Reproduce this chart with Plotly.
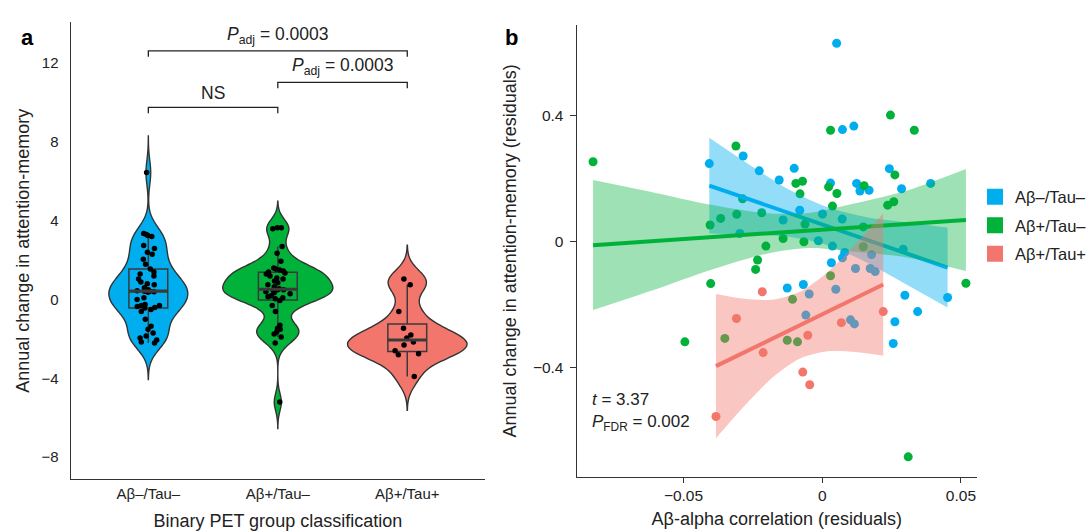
import numpy as np
import plotly.graph_objects as go

# ---------------- data: panel a ----------------
categories = ["Aβ–/Tau–", "Aβ+/Tau–", "Aβ+/Tau+"]
colors = ["#00AEEF", "#00B13A", "#F3766C"]

blue_vals = [-2.2, -2.15, -2.05, -1.95, -1.85, -1.7, -1.5, -1.35, -1.0, -0.6, -0.5, -0.42,
             -0.4, -0.35, -0.3, -0.3, -0.25, 0.0, 0.1, 0.38, 0.4, 0.42, 0.43, 0.45, 0.5,
             0.6, 0.75, 0.8, 0.9, 1.05, 1.2, 1.3, 1.4, 1.55, 1.8, 2.05, 2.3, 2.4, 2.6,
             2.75, 3.2, 3.25, 3.3, 3.35, 6.45]
green_vals = [-5.2, -2.2, -1.9, -1.75, -1.65, -1.5, -1.45, -1.3, -0.6, -0.3, -0.05, 0.05,
              0.1, 0.15, 0.2, 0.3, 0.35, 0.4, 0.45, 0.5, 0.5, 0.55, 0.65, 0.75, 0.85, 0.95,
              1.05, 1.1, 1.2, 1.3, 1.35, 1.4, 1.45, 1.5, 1.55, 1.6, 1.95, 2.35, 2.7, 3.6,
              3.65, 3.65]
red_vals = [-3.9, -2.8, -2.75, -2.6, -2.3, -2.15, -1.95, -1.8, -1.45, -0.6, 0.75, 1.05]
group_vals = [blue_vals, green_vals, red_vals]
violin_widths = [0.61, 0.85, 0.92]

# significance brackets: (left group, right group, height, label)
bracket_pairs = [(0, 2), (1, 2), (0, 1)]
bracket_heights = [12.63, 11.03, 9.76]
bracket_labels = ["<i>P</i><sub>adj</sub> = 0.0003", "<i>P</i><sub>adj</sub> = 0.0003", "NS"]

# ---------------- data: panel b ----------------
blue_x = [-0.0407, -0.0285, -0.0227, -0.0155, -0.0101, 0.0030, 0.0124, 0.0136, 0.0169, 0.0242,
          0.0073, 0.0114, 0.0052, 0.0286, 0.0391, -0.0081, 0.0001, -0.0141, -0.0297, -0.0014,
          0.0037, 0.0072, 0.0033, 0.0081, 0.0073, 0.0120, 0.0173, 0.0191, 0.0178, 0.0292,
          -0.0126, -0.0068, -0.0047, 0.0049, -0.0059, 0.0102, 0.0116, 0.0298, 0.0344, 0.0262,
          0.0256, 0.0452]
blue_y = [0.246, 0.270, 0.223, 0.194, 0.231, 0.184, 0.183, 0.159, 0.161, 0.230,
          0.354, 0.365, 0.628, 0.166, 0.183, 0.098, 0.086, 0.067, 0.024, 0.001,
          -0.016, 0.070, -0.069, -0.036, -0.053, -0.087, -0.087, -0.097, -0.043, -0.026,
          -0.149, -0.138, -0.168, -0.153, -0.235, -0.250, -0.263, -0.172, -0.224, -0.256,
          -0.325, -0.179]
green_x = [-0.0826, -0.0311, 0.0246, 0.0030, 0.0332, -0.0095, -0.0071, -0.0080, 0.0023, 0.0053,
           0.0151, 0.0262, 0.0236, 0.0258, 0.0037, -0.0287, -0.0404, -0.0366, -0.0308, -0.0218,
           -0.0203, -0.0141, -0.0062, 0.0148, -0.0233, -0.0240, -0.0402, -0.0495, 0.0518, 0.0310,
           0.0030, -0.0107, -0.0351, -0.0126, -0.0089, -0.0066, 0.0148]
green_y = [0.252, 0.302, 0.400, 0.352, 0.352, 0.183, 0.190, 0.150, 0.172, 0.151,
           0.176, 0.210, 0.114, 0.125, 0.111, 0.134, 0.051, 0.072, 0.085, 0.090,
           -0.016, 0.008, 0.054, 0.045, -0.060, -0.090, -0.135, -0.320, -0.134, -0.685,
           -0.110, -0.185, -0.309, -0.315, -0.320, -0.002, -0.018]
red_x = [-0.0216, -0.0309, -0.0213, -0.0052, 0.0069, 0.0220, -0.0070, -0.0045, -0.0383]
red_y = [-0.161, -0.246, -0.354, -0.299, -0.259, -0.224, -0.416, -0.456, -0.557]

# fitted lines with confidence bands
blue_fit_x = [-0.0407, -0.026, -0.012, 0.002, 0.016, 0.030, 0.0452]
blue_fit = [0.176, 0.131, 0.089, 0.047, 0.004, -0.038, -0.084]
blue_hi = [0.328, 0.241, 0.164, 0.107, 0.076, 0.060, 0.043]
blue_lo = [0.024, 0.021, 0.014, -0.013, -0.068, -0.136, -0.211]

green_fit_x = [-0.0826, -0.06, -0.04, -0.02, -0.005, 0.01, 0.03, 0.0518]
green_fit = [-0.013, 0.0004, 0.0123, 0.0242, 0.0332, 0.0421, 0.054, 0.067]
green_hi = [0.194, 0.153, 0.115, 0.088, 0.089, 0.116, 0.159, 0.229]
green_lo = [-0.219, -0.153, -0.091, -0.040, -0.022, -0.032, -0.051, -0.095]

red_fit_x = [-0.0383, -0.028, -0.018, -0.008, 0.002, 0.012, 0.022]
red_fit = [-0.397, -0.353, -0.310, -0.267, -0.224, -0.181, -0.138]
red_hi = [-0.168, -0.183, -0.186, -0.161, -0.098, -0.010, 0.088]
red_lo = [-0.626, -0.523, -0.434, -0.373, -0.350, -0.352, -0.364]

stats_text = "<i>t</i> = 3.37<br><i>P</i><sub>FDR</sub> = 0.002"

FONT = "Liberation Sans, Arial, sans-serif"
INK = "#222222"
BOXLINE = "#3a3a3a"

fig = go.Figure()


def nrd0(v):
    v = np.asarray(v, float)
    sd = v.std(ddof=1)
    iqr = np.subtract(*np.percentile(v, [75, 25]))
    return 0.9 * min(sd, iqr / 1.34) * len(v) ** (-0.2)


# ---- panel a: violins, boxes, points ----
for i, (vals, col, w) in enumerate(zip(group_vals, colors, violin_widths)):
    bw = nrd0(vals)
    fig.add_trace(go.Violin(
        y=vals, x0=i, name=categories[i], width=w, bandwidth=bw,
        spanmode="manual", span=[min(vals) - 3 * bw, max(vals) + 3 * bw],
        scalemode="width", fillcolor=col, opacity=1,
        line=dict(color="#333333", width=1.4), points=False,
        box_visible=False, meanline_visible=False, showlegend=False,
        hoverinfo="skip", xaxis="x", yaxis="y"))

for i, vals in enumerate(group_vals):
    v = np.asarray(vals, float)
    q1, med, q3 = np.percentile(v, [25, 50, 75])
    iqr = q3 - q1
    uf = v[v <= q3 + 1.5 * iqr].max()
    lf = v[v >= q1 - 1.5 * iqr].min()
    fig.add_trace(go.Box(
        x=[i], q1=[q1], median=[med], q3=[q3], lowerfence=[lf], upperfence=[uf],
        width=0.3, whiskerwidth=0, fillcolor="rgba(0,0,0,0)",
        line=dict(color=BOXLINE, width=1.5), showlegend=False,
        hoverinfo="skip", xaxis="x", yaxis="y"))
    fig.add_trace(go.Scatter(
        x=[i - 0.15, i + 0.15], y=[med, med], mode="lines",
        line=dict(color=BOXLINE, width=3.2), showlegend=False,
        hoverinfo="skip", xaxis="x", yaxis="y"))
    fig.add_trace(go.Box(
        y=vals, x0=i, name=categories[i], width=0.3, boxpoints="all",
        jitter=0.75, pointpos=0, whiskerwidth=0,
        fillcolor="rgba(0,0,0,0)", line=dict(color="rgba(0,0,0,0)", width=0),
        marker=dict(color="black", size=5.5), showlegend=False,
        xaxis="x", yaxis="y"))

for (a, b), h, lab in zip(bracket_pairs, bracket_heights, bracket_labels):
    fig.add_trace(go.Scatter(
        x=[a, a, b, b], y=[h - 0.3, h, h, h - 0.3], mode="lines",
        line=dict(color=INK, width=1.3), showlegend=False,
        hoverinfo="skip", xaxis="x", yaxis="y"))
    fig.add_annotation(x=(a + b) / 2, y=h, xref="x", yref="y", text=lab,
                       showarrow=False, yanchor="bottom", yshift=2,
                       font=dict(size=17.5, color=INK, family=FONT))

# ---- panel b: points, bands, lines ----
pts = [(blue_x, blue_y), (green_x, green_y), (red_x, red_y)]
for (px, py), col in zip(pts, colors):
    fig.add_trace(go.Scatter(
        x=px, y=py, mode="markers", marker=dict(color=col, size=9),
        showlegend=False, xaxis="x2", yaxis="y2"))

fits = [(blue_fit_x, blue_fit, blue_lo, blue_hi),
        (green_fit_x, green_fit, green_lo, green_hi),
        (red_fit_x, red_fit, red_lo, red_hi)]
band_alpha = [0.42, 0.38, 0.42]
for (fx, fy, lo, hi), col, al in zip(fits, colors, band_alpha):
    r, g, b = int(col[1:3], 16), int(col[3:5], 16), int(col[5:7], 16)
    fig.add_trace(go.Scatter(
        x=fx, y=lo, mode="lines", line=dict(width=0, shape="spline", smoothing=0.8),
        showlegend=False, hoverinfo="skip", xaxis="x2", yaxis="y2"))
    fig.add_trace(go.Scatter(
        x=fx, y=hi, mode="lines", line=dict(width=0, shape="spline", smoothing=0.8),
        fill="tonexty", fillcolor=f"rgba({r},{g},{b},{al})",
        showlegend=False, hoverinfo="skip", xaxis="x2", yaxis="y2"))
    fig.add_trace(go.Scatter(
        x=fx, y=fy, mode="lines", line=dict(color=col, width=4),
        showlegend=False, hoverinfo="skip", xaxis="x2", yaxis="y2"))

for cat, col in zip(categories, colors):
    fig.add_trace(go.Scatter(
        x=[None], y=[None], mode="markers", name=cat, legendgroup=cat,
        marker=dict(symbol="square", size=16, color=col),
        xaxis="x2", yaxis="y2"))

fig.add_annotation(x=0.5403, y=0.2707, xref="paper", yref="paper", text=stats_text,
                   showarrow=False, xanchor="left", yanchor="top", align="left",
                   font=dict(size=17, color=INK, family=FONT))
fig.add_annotation(x=0.017, y=0.957, xref="paper", yref="paper", text="<b>a</b>",
                   showarrow=False, font=dict(size=22, color="black", family=FONT))
fig.add_annotation(x=0.468, y=0.957, xref="paper", yref="paper", text="<b>b</b>",
                   showarrow=False, font=dict(size=22, color="black", family=FONT))


def axis_style(tick_size):
    return dict(showline=True, linecolor="#333333", linewidth=1.2, showgrid=False,
                zeroline=False, tickfont=dict(size=tick_size, color=INK, family=FONT),
                title_font=dict(size=18, color=INK, family=FONT))


fig.update_layout(
    width=1092, height=532, margin=dict(l=0, r=0, t=0, b=0),
    paper_bgcolor="white", plot_bgcolor="white",
    font=dict(family=FONT, color=INK),
    violinmode="overlay", boxmode="overlay",
    xaxis=dict(domain=[0.0647, 0.4441], range=[-0.6, 2.6], tickvals=[0, 1, 2],
               ticktext=categories, ticks="", anchor="y",
               title=dict(text="Binary PET group classification", standoff=13),
               **axis_style(15)),
    yaxis=dict(domain=[0.0987, 0.9586], range=[-9.13, 14.09], tickvals=[-8, -4, 0, 4, 8, 12],
               ticks="", anchor="x", ticklabelstandoff=8,
               title=dict(text="Annual change in attention-memory", standoff=7),
               **axis_style(15)),
    xaxis2=dict(domain=[0.5281, 0.8947], range=[-0.0885, 0.0558],
                tickvals=[-0.05, 0, 0.05], ticks="outside", ticklen=5,
                tickcolor="#333333", anchor="y2",
                title=dict(text="Aβ-alpha correlation (residuals)", standoff=9),
                **axis_style(15.5)),
    yaxis2=dict(domain=[0.104, 0.953], range=[-0.748, 0.686],
                tickvals=[-0.4, 0, 0.4], ticks="outside", ticklen=6,
                tickcolor="#333333", anchor="x2", ticklabelstandoff=3,
                title=dict(text="Annual change in attention-memory (residuals)", standoff=11),
                **axis_style(15.5)),
    legend=dict(x=0.893, y=0.6625, xanchor="left", yanchor="top",
                font=dict(size=16.5, color=INK, family=FONT), tracegroupgap=4,
                bgcolor="rgba(0,0,0,0)", itemsizing="trace"),
)

fig.write_html("out.html")
